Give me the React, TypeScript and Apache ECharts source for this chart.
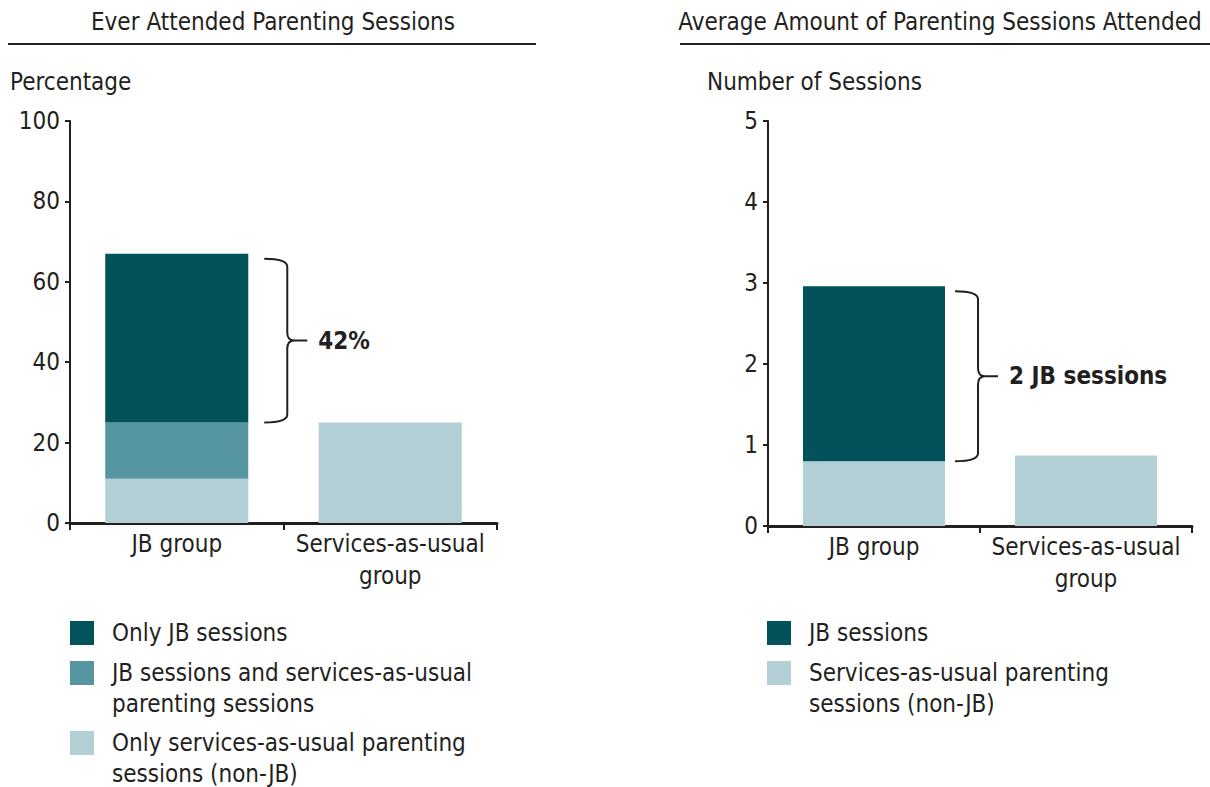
import React, { useEffect, useRef } from "react";
import * as echarts from "echarts";

// ---------- data ----------
const categories = ["JB group", "Services-as-usual\ngroup"];

// Left panel: percentage ever attended (stacked)
const pctOnlySAU = [11, 25];
const pctBoth = [14, null];
const pctOnlyJB = [42, null];
const pctBrace = [0, 25, 67];
const pctBraceLabel = "42%";

// Right panel: average number of sessions (stacked)
const sessSAU = [0.8, 0.87];
const sessJB = [2.16, null];
const sessBrace = [0, 0.8, 2.96];
const sessBraceLabel = "2 JB sessions";

const leftTitle = "Ever Attended Parenting Sessions";
const rightTitle = "Average Amount of Parenting Sessions Attended";
const leftAxisName = "Percentage";
const rightAxisName = "Number of Sessions";

const leftNames = [
  "Only JB sessions",
  "JB sessions and services-as-usual parenting sessions",
  "Only services-as-usual parenting sessions (non-JB)",
];
const leftLabels = [
  "Only JB sessions",
  "JB sessions and services-as-usual\nparenting sessions",
  "Only services-as-usual parenting\nsessions (non-JB)",
];
const rightNames = ["JB sessions", "Services-as-usual parenting sessions (non-JB)"];
const rightLabels = ["JB sessions", "Services-as-usual parenting\nsessions (non-JB)"];

// ---------- style ----------
const FONT = "'Liberation Sans Narrow', 'Arial Narrow', 'DejaVu Sans Condensed', sans-serif";
const INK = "#231f20";
const DARK = "#02525c";
const MID = "#5596a1";
const LIGHT = "#b2cfd5";
const FS = 24;
const LH = 31;

function braceRenderer(gap: number, label: string) {
  return (params: any, api: any) => {
    const idx = api.value(0);
    const low = api.value(1);
    const high = api.value(2);
    const pTop = api.coord([idx, high]);
    const pBot = api.coord([idx, low]);
    const bw = api.size([1, 0])[0];
    const x0 = pTop[0] + bw * 0.335 + gap;
    const x1 = x0 + 23;
    const x2 = x1 + 20;
    const yT = pTop[1] + 5;
    const yB = pBot[1];
    const ym = (yT + yB) / 2;
    const r = 8;
    const d =
      `M${x0},${yT} Q${x1},${yT} ${x1},${yT + r} L${x1},${ym - r} ` +
      `Q${x1},${ym} ${x1 + 7},${ym} L${x2},${ym} M${x1 + 7},${ym} ` +
      `Q${x1},${ym} ${x1},${ym + r} L${x1},${yB - r} Q${x1},${yB} ${x0},${yB}`;
    return {
      type: "group",
      children: [
        {
          type: "path",
          shape: { pathData: d },
          style: { stroke: INK, fill: "none", lineWidth: 2 },
        },
        {
          type: "text",
          x: x2 + 11,
          y: ym,
          style: {
            text: label,
            fill: INK,
            fontSize: FS,
            fontWeight: "bold",
            fontFamily: FONT,
            align: "left",
            verticalAlign: "middle",
          },
        },
      ],
    };
  };
}

// One legend component per entry, so that each swatch sits beside the first line
function legendItem(name: string, label: string, left: number, iconTop: number) {
  const lines = label.split("\n").length;
  // empty leading lines keep the first line centred on the swatch
  const text = "\n".repeat(lines - 1) + label;
  const blockH = (2 * lines - 1) * LH;
  return {
    orient: "vertical",
    padding: 0,
    itemWidth: 24,
    itemHeight: 24,
    icon: "rect",
    selectedMode: false,
    left,
    top: iconTop + 12 - blockH / 2,
    data: [name],
    formatter: () => text,
    textStyle: {
      fontSize: FS,
      lineHeight: LH,
      color: INK,
      fontFamily: FONT,
      padding: [0, 0, 0, 13],
    },
  };
}

const xAxisBase = {
  type: "category",
  data: categories,
  axisLine: { lineStyle: { color: INK, width: 3 } },
  axisTick: { show: true, length: 7, lineStyle: { color: INK, width: 2 } },
  axisLabel: {
    color: INK,
    fontSize: FS,
    lineHeight: 32,
    fontFamily: FONT,
    margin: 5,
    interval: 0,
  },
};

const yAxisBase = {
  type: "value",
  axisLine: { show: true, lineStyle: { color: INK, width: 2 } },
  axisTick: { show: true, length: 5, lineStyle: { color: INK, width: 2 } },
  axisLabel: { color: INK, fontSize: FS, fontFamily: FONT, margin: 10 },
  splitLine: { show: false },
};

export default function App() {
  const ref = useRef<HTMLDivElement>(null);
  useEffect(() => {
    if (!ref.current) return;
    const chart = echarts.init(ref.current, null, { renderer: "svg" });
    const leftIconTops = [621, 661, 731];
    const rightIconTops = [621, 661];
    const option: any = {
      animation: false,
      backgroundColor: "#ffffff",
      grid: [
        { left: 70, top: 121, width: 427, height: 402 },
        { left: 768, top: 121, width: 424, height: 405 },
      ],
      xAxis: [
        { ...xAxisBase, gridIndex: 0 },
        { ...xAxisBase, gridIndex: 1 },
      ],
      yAxis: [
        { ...yAxisBase, gridIndex: 0, min: 0, max: 100, interval: 20 },
        { ...yAxisBase, gridIndex: 1, min: 0, max: 5, interval: 1 },
      ],
      legend: [
        ...leftNames.map((n, i) => legendItem(n, leftLabels[i], 70, leftIconTops[i])),
        ...rightNames.map((n, i) => legendItem(n, rightLabels[i], 767, rightIconTops[i])),
      ],
      series: [
        {
          name: leftNames[2],
          type: "bar",
          stack: "pct",
          xAxisIndex: 0,
          yAxisIndex: 0,
          barWidth: "67%",
          itemStyle: { color: LIGHT },
          data: pctOnlySAU,
        },
        {
          name: leftNames[1],
          type: "bar",
          stack: "pct",
          xAxisIndex: 0,
          yAxisIndex: 0,
          barWidth: "67%",
          itemStyle: { color: MID },
          data: pctBoth,
        },
        {
          name: leftNames[0],
          type: "bar",
          stack: "pct",
          xAxisIndex: 0,
          yAxisIndex: 0,
          barWidth: "67%",
          itemStyle: { color: DARK },
          data: pctOnlyJB,
        },
        {
          name: rightNames[1],
          type: "bar",
          stack: "sess",
          xAxisIndex: 1,
          yAxisIndex: 1,
          barWidth: "67%",
          itemStyle: { color: LIGHT },
          data: sessSAU,
        },
        {
          name: rightNames[0],
          type: "bar",
          stack: "sess",
          xAxisIndex: 1,
          yAxisIndex: 1,
          barWidth: "67%",
          itemStyle: { color: DARK },
          data: sessJB,
        },
        {
          type: "custom",
          xAxisIndex: 0,
          yAxisIndex: 0,
          silent: true,
          clip: false,
          z: 5,
          encode: { x: 0, y: [1, 2] },
          renderItem: braceRenderer(16, pctBraceLabel),
          data: [pctBrace],
        },
        {
          type: "custom",
          xAxisIndex: 1,
          yAxisIndex: 1,
          silent: true,
          clip: false,
          z: 5,
          encode: { x: 0, y: [1, 2] },
          renderItem: braceRenderer(10, sessBraceLabel),
          data: [sessBrace],
        },
      ],
      graphic: [
        {
          type: "text",
          x: 273,
          y: 22,
          style: { text: leftTitle, fill: INK, fontSize: FS, fontFamily: FONT, align: "center", verticalAlign: "middle" },
        },
        {
          type: "line",
          shape: { x1: 8, y1: 44, x2: 536, y2: 44 },
          style: { stroke: INK, lineWidth: 2 },
        },
        {
          type: "text",
          x: 940,
          y: 22,
          style: { text: rightTitle, fill: INK, fontSize: FS, fontFamily: FONT, align: "center", verticalAlign: "middle" },
        },
        {
          type: "line",
          shape: { x1: 680, y1: 44, x2: 1210, y2: 44 },
          style: { stroke: INK, lineWidth: 2 },
        },
        {
          type: "text",
          x: 10,
          y: 82,
          style: { text: leftAxisName, fill: INK, fontSize: FS, fontFamily: FONT, align: "left", verticalAlign: "middle" },
        },
        {
          type: "text",
          x: 707,
          y: 82,
          style: { text: rightAxisName, fill: INK, fontSize: FS, fontFamily: FONT, align: "left", verticalAlign: "middle" },
        },
      ],
    };
    chart.setOption(option);
    return () => chart.dispose();
  }, []);
  return (
    <div
      ref={ref}
      style={{ position: "absolute", left: 0, top: 0, width: 1210, height: 787 }}
    />
  );
}
